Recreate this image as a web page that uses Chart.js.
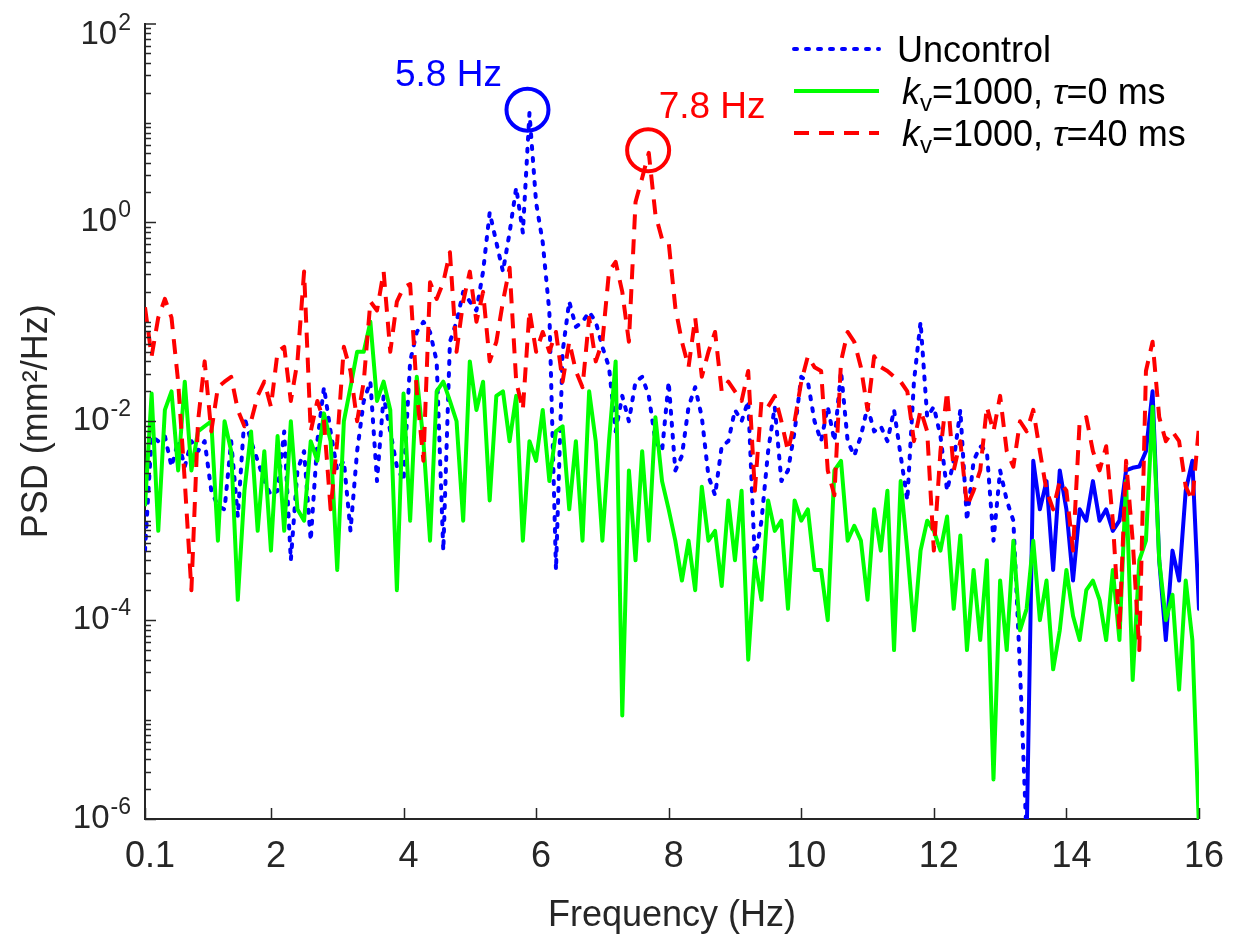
<!DOCTYPE html>
<html>
<head>
<meta charset="utf-8">
<title>PSD</title>
<script src="https://cdn.jsdelivr.net/npm/chart.js@4.4.1/dist/chart.umd.min.js"></script>
<style>
  html, body { margin: 0; padding: 0; background: #fff; }
  #wrap { width: 1235px; height: 939px; }
</style>
</head>
<body>
<div id="wrap"><canvas id="psd"></canvas></div>
<script>
// frequency grid (Hz)
const freq = [
  0.1, 0.2, 0.3, 0.4, 0.5, 0.6, 0.7, 0.8, 0.9, 1.0,
  1.1, 1.2, 1.3, 1.4, 1.5, 1.6, 1.7, 1.8, 1.9, 2.0,
  2.1, 2.2, 2.3, 2.4, 2.5, 2.6, 2.7, 2.8, 2.9, 3.0,
  3.1, 3.2, 3.3, 3.4, 3.5, 3.6, 3.7, 3.8, 3.9, 4.0,
  4.1, 4.2, 4.3, 4.4, 4.5, 4.6, 4.7, 4.8, 4.9, 5.0,
  5.1, 5.2, 5.3, 5.4, 5.5, 5.6, 5.7, 5.8, 5.9, 6.0,
  6.1, 6.2, 6.3, 6.4, 6.5, 6.6, 6.7, 6.8, 6.9, 7.0,
  7.1, 7.2, 7.3, 7.4, 7.5, 7.6, 7.7, 7.8, 7.9, 8.0,
  8.1, 8.2, 8.3, 8.4, 8.5, 8.6, 8.7, 8.8, 8.9, 9.0,
  9.1, 9.2, 9.3, 9.4, 9.5, 9.6, 9.7, 9.8, 9.9, 10.0,
  10.1, 10.2, 10.3, 10.4, 10.5, 10.6, 10.7, 10.8, 10.9, 11.0,
  11.1, 11.2, 11.3, 11.4, 11.5, 11.6, 11.7, 11.8, 11.9, 12.0,
  12.1, 12.2, 12.3, 12.4, 12.5, 12.6, 12.7, 12.8, 12.9, 13.0,
  13.1, 13.2, 13.3, 13.4, 13.5, 13.6, 13.7, 13.8, 13.9, 14.0,
  14.1, 14.2, 14.3, 14.4, 14.5, 14.6, 14.7, 14.8, 14.9, 15.0,
  15.1, 15.2, 15.3, 15.4, 15.5, 15.6, 15.7, 15.8, 15.9, 16.0
];

// PSD (mm^2/Hz)
const uncontrol = [
  5e-4, 7.1e-3, 6.3e-3, 7.1e-3, 3.5e-3, 6.3e-3, 3.5e-3, 6.3e-3, 5e-3, 6.3e-3,
  2e-3, 1.4e-3, 1.3e-3, 6.3e-3, 1.1e-3, 1.1e-2, 6.3e-3, 4e-3, 2.5e-3, 1.8e-3,
  2e-3, 7.9e-3, 4e-4, 3.2e-3, 5e-3, 6.3e-4, 6.3e-3, 2.2e-2, 7.9e-3, 3.2e-3,
  4e-3, 7.9e-4, 5e-3, 1.6e-2, 2.5e-2, 2.5e-3, 1.8e-2, 7.9e-3, 3.5e-3, 2.5e-3,
  4e-2, 7.9e-2, 0.1, 7.9e-2, 4e-2, 5e-4, 6.3e-2, 0.1, 0.2, 0.16,
  0.13, 0.32, 1.26, 0.63, 0.32, 0.79, 2.24, 0.79, 12.6, 1.58,
  0.63, 0.126, 3.2e-4, 5e-2, 0.16, 8.9e-2, 0.1, 0.126, 0.1, 5.6e-2,
  3.5e-2, 7.9e-3, 1.8e-2, 1e-2, 2.5e-2, 2.8e-2, 1.8e-2, 6.3e-3, 5e-3, 2.5e-2,
  3.2e-3, 4.5e-3, 1.4e-2, 2.2e-2, 1.1e-2, 2.8e-3, 1.8e-3, 5.6e-3, 6.3e-3, 1.3e-2,
  1e-2, 1.6e-2, 4e-4, 1e-3, 5e-3, 1.4e-2, 2.5e-3, 3.2e-3, 7.9e-3, 2.8e-2,
  2.5e-2, 1e-2, 6.3e-3, 1.4e-2, 6.3e-3, 3.2e-2, 6.3e-3, 4.5e-3, 7.1e-3, 1.4e-2,
  7.9e-3, 8.9e-3, 6.3e-3, 1.3e-2, 4.5e-3, 1.6e-3, 2.5e-2, 0.1, 1.1e-2, 1.4e-2,
  7.1e-3, 2e-3, 4e-3, 1.3e-2, 1e-3, 4e-3, 5.6e-3, 5e-3, 6.3e-4, 3.2e-3,
  1.6e-3, 1e-3, 3.2e-5, 6.3e-7, 4e-3, 1.3e-3, 2.5e-3, 3.2e-4, 3.2e-3, 1.3e-3,
  2.5e-4, 1.3e-3, 1e-3, 2.5e-3, 1e-3, 1.3e-3, 7.9e-4, 1e-3, 3.2e-3, 3.4e-3,
  3.5e-3, 5e-3, 2e-2, 4e-4, 6.3e-5, 5e-4, 2.5e-4, 2e-3, 4e-3, 1.3e-4
];

const tau0 = [
  1.4e-3, 1.9e-2, 7.9e-4, 1.3e-2, 2e-2, 3.2e-3, 2.5e-2, 3.2e-3, 7.9e-3, 8.9e-3,
  1e-2, 6.3e-4, 1e-2, 5e-3, 1.6e-4, 2e-3, 7.9e-3, 7.9e-4, 5e-3, 5e-4,
  7.1e-3, 7.9e-4, 1e-2, 1.3e-3, 1e-3, 6.3e-3, 4e-3, 1.2e-2, 6.3e-3, 3.2e-4,
  1e-2, 2.2e-2, 5e-2, 5e-2, 0.1, 1.6e-2, 2.5e-2, 1.3e-2, 2e-4, 1.9e-2,
  1e-3, 2.8e-2, 6.3e-3, 6.3e-4, 2e-2, 2.5e-2, 1.6e-2, 1e-2, 1e-3, 4e-2,
  1.3e-2, 2.5e-2, 1.6e-3, 1.8e-2, 2e-2, 6.3e-3, 1.8e-2, 6.3e-4, 6.3e-3, 4e-3,
  1.3e-2, 2.5e-3, 7.9e-3, 8.9e-3, 1.3e-3, 6.3e-3, 6.3e-4, 2e-2, 6.3e-3, 6.3e-4,
  6.3e-3, 4e-2, 1.1e-5, 3.2e-3, 4e-4, 5e-3, 6.3e-4, 1.1e-2, 2.5e-3, 1.3e-3,
  6.3e-4, 2.5e-4, 6.3e-4, 2e-4, 2.2e-3, 6.3e-4, 7.9e-4, 2.2e-4, 1.6e-3, 4e-4,
  2e-3, 4e-5, 4e-4, 1.6e-4, 1.6e-3, 7.9e-4, 1e-3, 1.3e-4, 1.6e-3, 1e-3,
  1.3e-3, 3.2e-4, 3.2e-4, 1e-4, 3.2e-3, 4e-3, 6.3e-4, 8.9e-4, 6.3e-4, 1.6e-4,
  1.3e-3, 5e-4, 2e-3, 5e-5, 2.5e-3, 5e-4, 7.9e-5, 5e-4, 1e-3, 7.9e-4,
  5e-4, 1.1e-3, 1.3e-4, 7.1e-4, 5e-5, 3.2e-4, 6.3e-5, 4e-4, 2.5e-6, 2.5e-4,
  5e-5, 6.3e-4, 7.9e-5, 1.3e-4, 6.3e-4, 1e-4, 2.5e-4, 3.2e-5, 7.9e-5, 3.2e-4,
  1.1e-4, 6.3e-5, 2e-4, 2.5e-4, 1.6e-4, 6.3e-5, 3.2e-4, 6.3e-5, 2.5e-3, 2.5e-5,
  4e-4, 6.3e-4, 1.4e-2, 4e-4, 1e-4, 1.8e-4, 2e-5, 2.5e-4, 6.3e-5, 8e-7
];

const tau40 = [
  0.14, 4.5e-2, 0.11, 0.17, 0.11, 2.5e-2, 2.5e-3, 2e-4, 1e-2, 4e-2,
  7.9e-3, 2.2e-2, 2.5e-2, 2.8e-2, 1.3e-2, 8.9e-3, 1e-2, 1.8e-2, 2.5e-2, 1.4e-2,
  5e-2, 5.6e-2, 1.6e-2, 4e-2, 0.32, 7.9e-3, 1.6e-2, 1e-2, 1.3e-3, 6.3e-3,
  5.6e-2, 3.2e-2, 1e-2, 2.5e-2, 0.16, 0.13, 0.32, 5e-2, 0.16, 0.22,
  0.24, 2e-2, 4e-3, 0.25, 0.17, 0.25, 0.5, 5e-2, 0.16, 0.32,
  0.1, 0.2, 4e-2, 6.3e-2, 0.16, 0.35, 2.5e-2, 1.3e-2, 0.13, 5e-2,
  7.9e-2, 5e-2, 7.9e-2, 2.5e-2, 6.3e-2, 3.2e-2, 2.2e-2, 0.11, 4e-2, 6.3e-2,
  0.32, 0.4, 0.2, 6.3e-2, 1.6, 2.8, 5.0, 1.2, 0.68, 0.63,
  0.14, 6.3e-2, 3.5e-2, 0.11, 2.8e-2, 5e-2, 7.9e-2, 2e-2, 2.5e-2, 2e-2,
  1.6e-2, 3.2e-2, 2e-3, 1.6e-2, 1.4e-2, 1.8e-2, 1e-2, 5e-3, 1e-2, 2.5e-2,
  4.5e-2, 3.5e-2, 3.2e-2, 3.2e-3, 1.8e-3, 4e-2, 7.9e-2, 6.3e-2, 3.5e-2, 1.3e-2,
  4.5e-2, 3.5e-2, 3.2e-2, 2.8e-2, 2.5e-2, 2e-2, 6.3e-3, 1.3e-2, 7.9e-3, 5e-4,
  5e-3, 2e-2, 3.2e-3, 6.3e-3, 1.4e-3, 2e-3, 3.2e-3, 1.4e-2, 7.9e-3, 1.8e-2,
  5e-3, 3.5e-3, 1e-2, 7.9e-3, 1.3e-2, 5e-3, 2e-3, 1.3e-3, 2.5e-3, 2e-3,
  5e-4, 1e-2, 1.1e-2, 5e-3, 3.2e-3, 5.6e-3, 1e-3, 7.9e-5, 4e-3, 6.3e-4,
  5e-5, 3.2e-2, 6.3e-2, 1.1e-2, 6.3e-3, 7.9e-3, 6.3e-3, 2.2e-3, 1.6e-3, 8.9e-3
];

const seriesNames = ["Uncontrol", "kv=1000, τ=0 ms", "kv=1000, τ=40 ms"];
const xTicks = [0.1, 2, 4, 6, 8, 10, 12, 14, 16];
const yMajor = [1e-6, 1e-4, 1e-2, 1e0, 1e2];
const yExp = ["-6", "-4", "-2", "0", "2"];

// circled peaks
const peakFreq = [5.87, 7.69];
const peakPsd = [13.6, 5.3];
const peakText = ["5.8 Hz", "7.8 Hz"];

const FONT = '"Liberation Sans", Arial, Helvetica, sans-serif';
const INK = "#262626";
const BLUE = "#0000ff", GREEN = "#00ff00", RED = "#ff0000";
const DOT = [3, 9];
const DASH = [15, 10];

const pts = ys => freq.map((f, i) => ({ x: f, y: ys[i] }));

// legend rows: text split into runs (i = italic, sub = subscript)
const legendRows = [
  { color: BLUE, dash: DOT, cap: "round", runs: [["Uncontrol"]] },
  { color: GREEN, dash: [], cap: "butt", runs: [["k", "i"], ["v", "sub"], ["=1000, "], ["τ", "i"], ["=0 ms"]] },
  { color: RED, dash: DASH, cap: "butt", runs: [["k", "i"], ["v", "sub"], ["=1000, "], ["τ", "i"], ["=40 ms"]] },
];

function drawRuns(ctx, runs, x, y, size) {
  let cx = x;
  for (const [t, s] of runs) {
    const sz = s === "sub" ? Math.round(size * 0.66) : size;
    ctx.font = (s === "i" ? "italic " : "") + sz + "px " + FONT;
    ctx.fillText(t, cx, s === "sub" ? y + size * 0.2 : y);
    cx += ctx.measureText(t).width;
  }
}

const overlay = {
  id: "overlay",
  afterDraw(chart) {
    const { ctx, chartArea: a, scales: { x, y } } = chart;
    ctx.save();

    // inward tick marks
    ctx.strokeStyle = INK;
    ctx.lineWidth = 1.5;
    ctx.beginPath();
    for (let e = -6; e <= 1; e++) {
      for (let m = 1; m <= 9; m++) {
        const v = m * Math.pow(10, e);
        const py = Math.round(y.getPixelForValue(v)) + 0.5;
        const len = (m === 1 && e % 2 === 0) ? 11 : 6;
        ctx.moveTo(a.left, py);
        ctx.lineTo(a.left + len, py);
      }
    }
    ctx.moveTo(a.left, a.top + 0.5);
    ctx.lineTo(a.left + 11, a.top + 0.5);
    for (const v of xTicks) {
      const px = Math.round(x.getPixelForValue(v)) + 0.5;
      ctx.moveTo(px, a.bottom);
      ctx.lineTo(px, a.bottom - 11);
    }
    ctx.stroke();

    // y tick labels 10^n
    ctx.fillStyle = INK;
    ctx.textBaseline = "alphabetic";
    ctx.textAlign = "right";
    yMajor.forEach((v, i) => {
      const base = Math.max(y.getPixelForValue(v) + 9, 44);
      ctx.font = "23px " + FONT;
      const sw = ctx.measureText(yExp[i]).width;
      ctx.fillText(yExp[i], 131, base - 14);
      ctx.font = "33px " + FONT;
      ctx.fillText("10", 131 - sw - 1, base);
    });

    // circled peaks and their labels
    const off = [[-79, -24], [64, -32]];
    const cols = [BLUE, RED];
    ctx.textAlign = "center";
    ctx.lineWidth = 4;
    peakFreq.forEach((f, i) => {
      const cx = x.getPixelForValue(f), cy = y.getPixelForValue(peakPsd[i]);
      ctx.strokeStyle = cols[i];
      ctx.beginPath();
      ctx.arc(cx, cy, 21, 0, Math.PI * 2);
      ctx.stroke();
      ctx.fillStyle = cols[i];
      ctx.font = "37px " + FONT;
      ctx.fillText(peakText[i], cx + off[i][0], cy + off[i][1]);
    });

    // legend
    ctx.textAlign = "left";
    legendRows.forEach((row, i) => {
      const ly = 49 + i * 42;
      ctx.strokeStyle = row.color;
      ctx.lineWidth = 4;
      ctx.lineCap = row.cap;
      ctx.setLineDash(row.dash);
      ctx.beginPath();
      ctx.moveTo(794, ly);
      ctx.lineTo(879, ly);
      ctx.stroke();
      ctx.setLineDash([]);
      ctx.fillStyle = "#000";
      drawRuns(ctx, row.runs, i === 0 ? 897 : 902, ly + 13, 36);
    });

    ctx.restore();
  }
};

new Chart(document.getElementById("psd"), {
  type: "line",
  data: {
    datasets: [
      {
        label: seriesNames[0],
        data: pts(uncontrol),
        borderColor: BLUE,
        borderWidth: 4,
        borderCapStyle: "round",
        borderDash: DOT,
        segment: { borderDash: c => (c.p0.parsed.x >= 13.35 ? [] : DOT) },
        order: 3,
      },
      {
        label: seriesNames[1],
        data: pts(tau0),
        borderColor: GREEN,
        borderWidth: 4,
        order: 2,
      },
      {
        label: seriesNames[2],
        data: pts(tau40),
        borderColor: RED,
        borderWidth: 4,
        borderDash: DASH,
        order: 1,
      },
    ],
  },
  options: {
    responsive: true,
    maintainAspectRatio: false,
    animation: false,
    layout: { padding: { left: 0, right: 29, top: 23.5, bottom: 0 } },
    elements: {
      point: { radius: 0, hoverRadius: 0 },
      line: { tension: 0, borderJoinStyle: "round", fill: false },
    },
    plugins: {
      legend: { display: false },
      tooltip: { enabled: false },
    },
    scales: {
      x: {
        type: "linear",
        min: 0.1,
        max: 16,
        afterBuildTicks: s => { s.ticks = xTicks.map(v => ({ value: v })); },
        afterFit: s => { s.height = 120; },
        grid: { display: false, drawTicks: false },
        border: { display: true, color: INK, width: 2 },
        ticks: {
          color: INK,
          font: { family: FONT, size: 36 },
          padding: 16,
          labelOffset: 5,
          maxRotation: 0,
          autoSkip: false,
          callback: v => String(v),
        },
        title: {
          display: true,
          text: "Frequency (Hz)",
          color: INK,
          font: { family: FONT, size: 36 },
          padding: { top: 0, bottom: 1 },
        },
      },
      y: {
        type: "logarithmic",
        min: 1e-6,
        max: 100,
        afterFit: s => { s.width = 145; },
        grid: { display: false, drawTicks: false },
        border: { display: true, color: INK, width: 2 },
        ticks: { display: false },
        title: {
          display: true,
          text: "PSD (mm²/Hz)",
          color: INK,
          font: { family: FONT, size: 36 },
          padding: { top: 15, bottom: 0 },
        },
      },
    },
  },
  plugins: [overlay],
});
</script>
</body>
</html>
